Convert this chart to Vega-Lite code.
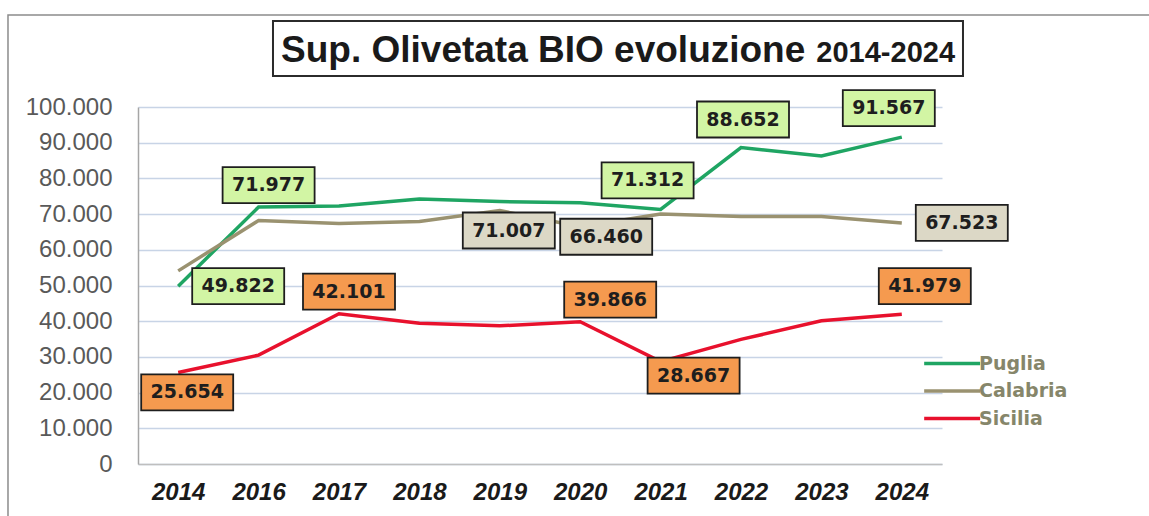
{
  "$schema": "https://vega.github.io/schema/vega-lite/v6.json",
  "width": 804,
  "height": 357,
  "autosize": "none",
  "padding": {"left": 138, "top": 107, "right": 207, "bottom": 52},
  "background": "white",
  "config": {
    "locale": {"number": {"decimal": ",", "thousands": ".", "grouping": [3], "currency": ["€", ""]}},
    "view": {"stroke": null}
  },
  "resolve": {"scale": {"x": "independent", "y": "independent"}},
  "layer": [
    {
      "data": {"values": [{}]},
      "mark": {"type": "rect", "fill": null, "stroke": "#8c8c8c", "strokeWidth": 1.5},
      "encoding": {
        "x": {"datum": -0.1617, "type": "quantitative", "scale": {"domain": [0, 1], "nice": false, "zero": false}, "axis": null},
        "x2": {"datum": 1.3},
        "y": {"datum": 125770, "type": "quantitative", "scale": {"domain": [0, 100000], "nice": false}, "axis": null},
        "y2": {"datum": -20000}
      }
    },
    {
      "data": {"values": [{}]},
      "mark": {"type": "rect", "fill": "white", "stroke": "#2b2b2b", "strokeWidth": 2},
      "encoding": {
        "x": {"datum": 0.1679, "type": "quantitative", "scale": {"domain": [0, 1], "nice": false, "zero": false}, "axis": null},
        "x2": {"datum": 1.0261},
        "y": {"datum": 124090, "type": "quantitative", "scale": {"domain": [0, 100000], "nice": false}, "axis": null},
        "y2": {"datum": 108683}
      }
    },
    {
      "data": {"values": [{}]},
      "mark": {"type": "text", "text": "Sup. Olivetata BIO evoluzione", "align": "left", "baseline": "alphabetic", "font": "Liberation Sans", "fontWeight": "bold", "fontSize": 37, "fill": "#1a1a1a"},
      "encoding": {
        "x": {"datum": 0.1779, "type": "quantitative", "scale": {"domain": [0, 1], "nice": false, "zero": false}, "axis": null},
        "y": {"datum": 112605, "type": "quantitative", "scale": {"domain": [0, 100000], "nice": false}, "axis": null}
      }
    },
    {
      "data": {"values": [{}]},
      "mark": {"type": "text", "text": "2014-2024", "align": "right", "baseline": "alphabetic", "font": "Liberation Sans", "fontWeight": "bold", "fontSize": 29, "fill": "#1a1a1a"},
      "encoding": {
        "x": {"datum": 1.0162, "type": "quantitative", "scale": {"domain": [0, 1], "nice": false, "zero": false}, "axis": null},
        "y": {"datum": 112605, "type": "quantitative", "scale": {"domain": [0, 100000], "nice": false}, "axis": null}
      }
    },
    {
      "data": {
        "values": [
          {"year": "2014", "series": "Puglia", "value": 49822},
          {"year": "2016", "series": "Puglia", "value": 71977},
          {"year": "2017", "series": "Puglia", "value": 72300},
          {"year": "2018", "series": "Puglia", "value": 74200},
          {"year": "2019", "series": "Puglia", "value": 73500},
          {"year": "2020", "series": "Puglia", "value": 73200},
          {"year": "2021", "series": "Puglia", "value": 71312},
          {"year": "2022", "series": "Puglia", "value": 88652},
          {"year": "2023", "series": "Puglia", "value": 86300},
          {"year": "2024", "series": "Puglia", "value": 91567},
          {"year": "2014", "series": "Calabria", "value": 54100},
          {"year": "2016", "series": "Calabria", "value": 68200},
          {"year": "2017", "series": "Calabria", "value": 67400},
          {"year": "2018", "series": "Calabria", "value": 67900},
          {"year": "2019", "series": "Calabria", "value": 71007},
          {"year": "2020", "series": "Calabria", "value": 66460},
          {"year": "2021", "series": "Calabria", "value": 70000},
          {"year": "2022", "series": "Calabria", "value": 69300},
          {"year": "2023", "series": "Calabria", "value": 69300},
          {"year": "2024", "series": "Calabria", "value": 67523},
          {"year": "2014", "series": "Sicilia", "value": 25654},
          {"year": "2016", "series": "Sicilia", "value": 30500},
          {"year": "2017", "series": "Sicilia", "value": 42101},
          {"year": "2018", "series": "Sicilia", "value": 39400},
          {"year": "2019", "series": "Sicilia", "value": 38700},
          {"year": "2020", "series": "Sicilia", "value": 39866},
          {"year": "2021", "series": "Sicilia", "value": 28667},
          {"year": "2022", "series": "Sicilia", "value": 34900},
          {"year": "2023", "series": "Sicilia", "value": 40100},
          {"year": "2024", "series": "Sicilia", "value": 41979}
        ]
      },
      "encoding": {
        "x": {
          "field": "year", "type": "ordinal",
          "scale": {"type": "point", "padding": 0.5},
          "axis": {"title": null, "labelAngle": 0, "labelFont": "Liberation Sans", "labelFontWeight": "bold", "labelFontStyle": "italic", "labelFontSize": 24, "labelColor": "#1a1a1a", "labelPadding": 16, "ticks": false, "grid": false, "domainColor": "#bfbfbf", "domainWidth": 1.5}
        },
        "y": {
          "field": "value", "type": "quantitative",
          "scale": {"domain": [0, 100000], "nice": false},
          "axis": {"title": null, "values": [0, 10000, 20000, 30000, 40000, 50000, 60000, 70000, 80000, 90000, 100000], "format": ",d", "labelFont": "Liberation Sans", "labelFontSize": 24, "labelColor": "#595959", "labelPadding": 26, "ticks": false, "grid": true, "gridColor": "#c8d4e6", "gridWidth": 1.5, "domainColor": "#a6a6a6", "domainWidth": 1.5}
        }
      },
      "layer": [
        {
          "mark": {"type": "line", "strokeWidth": 3.5},
          "encoding": {
            "color": {
              "field": "series", "type": "nominal",
              "scale": {"domain": ["Puglia", "Calabria", "Sicilia"], "range": ["#1fa563", "#9a9270", "#e8112d"]},
              "legend": {"orient": "none", "legendX": 784, "legendY": 245, "title": null, "symbolType": "M-1,0H5", "symbolSize": 348, "symbolStrokeWidth": 3.5, "labelFont": "DejaVu Sans", "labelFontWeight": "bold", "labelFontSize": 19, "labelColor": "#86866a", "labelOffset": 34, "rowPadding": 5.5}
            }
          }
        },
        {
          "transform": [{"filter": "(datum.series=='Puglia' && datum.year=='2014') || (datum.series=='Calabria' && datum.year=='2024')"}],
          "mark": {"type": "point", "shape": "M14,-18H106V18H14Z", "size": 4, "filled": true, "opacity": 1, "stroke": "#1e1e1e", "strokeWidth": 1.8},
          "encoding": {"fill": {"field": "series", "type": "nominal", "scale": {"domain": ["Puglia", "Calabria", "Sicilia"], "range": ["#d2f5a4", "#dcd8c6", "#f59a4f"]}, "legend": null}}
        },
        {
          "transform": [{"filter": "(datum.series=='Calabria' && datum.year=='2019') || (datum.series=='Sicilia' && datum.year=='2014')"}],
          "mark": {"type": "point", "shape": "M-37,2H55V38H-37Z", "size": 4, "filled": true, "opacity": 1, "stroke": "#1e1e1e", "strokeWidth": 1.8},
          "encoding": {"fill": {"field": "series", "type": "nominal", "legend": null}}
        },
        {
          "transform": [{"filter": "datum.series=='Calabria' && datum.year=='2020'"}],
          "mark": {"type": "point", "shape": "M-20,-8H72V28H-20Z", "size": 4, "filled": true, "opacity": 1, "stroke": "#1e1e1e", "strokeWidth": 1.8},
          "encoding": {"fill": {"field": "series", "type": "nominal", "legend": null}}
        },
        {
          "transform": [{"filter": "datum.series=='Sicilia' && datum.year=='2021'"}],
          "mark": {"type": "point", "shape": "M-13,-4H79V32H-13Z", "size": 4, "filled": true, "opacity": 1, "stroke": "#1e1e1e", "strokeWidth": 1.8},
          "encoding": {"fill": {"field": "series", "type": "nominal", "legend": null}}
        },
        {
          "transform": [{"filter": "(datum.series=='Puglia' && datum.year=='2016') || (datum.series=='Sicilia' && datum.year=='2017')"}],
          "mark": {"type": "point", "shape": "M-36,-40H56V-4H-36Z", "size": 4, "filled": true, "opacity": 1, "stroke": "#1e1e1e", "strokeWidth": 1.8},
          "encoding": {"fill": {"field": "series", "type": "nominal", "legend": null}}
        },
        {
          "transform": [{"filter": "datum.series=='Puglia' && (datum.year=='2021' || datum.year=='2024')"}],
          "mark": {"type": "point", "shape": "M-59,-47H33V-11H-59Z", "size": 4, "filled": true, "opacity": 1, "stroke": "#1e1e1e", "strokeWidth": 1.8},
          "encoding": {"fill": {"field": "series", "type": "nominal", "legend": null}}
        },
        {
          "transform": [{"filter": "datum.series=='Puglia' && datum.year=='2022'"}],
          "mark": {"type": "point", "shape": "M-44,-46H48V-10H-44Z", "size": 4, "filled": true, "opacity": 1, "stroke": "#1e1e1e", "strokeWidth": 1.8},
          "encoding": {"fill": {"field": "series", "type": "nominal", "legend": null}}
        },
        {
          "transform": [{"filter": "datum.series=='Sicilia' && datum.year=='2020'"}],
          "mark": {"type": "point", "shape": "M-16,-40H76V-4H-16Z", "size": 4, "filled": true, "opacity": 1, "stroke": "#1e1e1e", "strokeWidth": 1.8},
          "encoding": {"fill": {"field": "series", "type": "nominal", "legend": null}}
        },
        {
          "transform": [{"filter": "datum.series=='Sicilia' && datum.year=='2024'"}],
          "mark": {"type": "point", "shape": "M-23,-46H69V-10H-23Z", "size": 4, "filled": true, "opacity": 1, "stroke": "#1e1e1e", "strokeWidth": 1.8},
          "encoding": {"fill": {"field": "series", "type": "nominal", "legend": null}}
        },
        {
          "transform": [{"filter": "(datum.series=='Puglia' && datum.year=='2014') || (datum.series=='Calabria' && datum.year=='2024')"}],
          "mark": {"type": "text", "dx": 60, "dy": 0, "font": "DejaVu Sans", "fontWeight": "bold", "fontSize": 19, "fill": "#1e1e1e", "baseline": "middle"},
          "encoding": {"text": {"field": "value", "type": "quantitative", "format": ",d"}}
        },
        {
          "transform": [{"filter": "(datum.series=='Calabria' && datum.year=='2019') || (datum.series=='Sicilia' && datum.year=='2014')"}],
          "mark": {"type": "text", "dx": 9, "dy": 20, "font": "DejaVu Sans", "fontWeight": "bold", "fontSize": 19, "fill": "#1e1e1e", "baseline": "middle"},
          "encoding": {"text": {"field": "value", "type": "quantitative", "format": ",d"}}
        },
        {
          "transform": [{"filter": "datum.series=='Calabria' && datum.year=='2020'"}],
          "mark": {"type": "text", "dx": 26, "dy": 10, "font": "DejaVu Sans", "fontWeight": "bold", "fontSize": 19, "fill": "#1e1e1e", "baseline": "middle"},
          "encoding": {"text": {"field": "value", "type": "quantitative", "format": ",d"}}
        },
        {
          "transform": [{"filter": "datum.series=='Sicilia' && datum.year=='2021'"}],
          "mark": {"type": "text", "dx": 33, "dy": 14, "font": "DejaVu Sans", "fontWeight": "bold", "fontSize": 19, "fill": "#1e1e1e", "baseline": "middle"},
          "encoding": {"text": {"field": "value", "type": "quantitative", "format": ",d"}}
        },
        {
          "transform": [{"filter": "(datum.series=='Puglia' && datum.year=='2016') || (datum.series=='Sicilia' && datum.year=='2017')"}],
          "mark": {"type": "text", "dx": 10, "dy": -22, "font": "DejaVu Sans", "fontWeight": "bold", "fontSize": 19, "fill": "#1e1e1e", "baseline": "middle"},
          "encoding": {"text": {"field": "value", "type": "quantitative", "format": ",d"}}
        },
        {
          "transform": [{"filter": "datum.series=='Puglia' && (datum.year=='2021' || datum.year=='2024')"}],
          "mark": {"type": "text", "dx": -13, "dy": -29, "font": "DejaVu Sans", "fontWeight": "bold", "fontSize": 19, "fill": "#1e1e1e", "baseline": "middle"},
          "encoding": {"text": {"field": "value", "type": "quantitative", "format": ",d"}}
        },
        {
          "transform": [{"filter": "datum.series=='Puglia' && datum.year=='2022'"}],
          "mark": {"type": "text", "dx": 2, "dy": -28, "font": "DejaVu Sans", "fontWeight": "bold", "fontSize": 19, "fill": "#1e1e1e", "baseline": "middle"},
          "encoding": {"text": {"field": "value", "type": "quantitative", "format": ",d"}}
        },
        {
          "transform": [{"filter": "datum.series=='Sicilia' && datum.year=='2020'"}],
          "mark": {"type": "text", "dx": 30, "dy": -22, "font": "DejaVu Sans", "fontWeight": "bold", "fontSize": 19, "fill": "#1e1e1e", "baseline": "middle"},
          "encoding": {"text": {"field": "value", "type": "quantitative", "format": ",d"}}
        },
        {
          "transform": [{"filter": "datum.series=='Sicilia' && datum.year=='2024'"}],
          "mark": {"type": "text", "dx": 23, "dy": -28, "font": "DejaVu Sans", "fontWeight": "bold", "fontSize": 19, "fill": "#1e1e1e", "baseline": "middle"},
          "encoding": {"text": {"field": "value", "type": "quantitative", "format": ",d"}}
        }
      ]
    }
  ]
}
